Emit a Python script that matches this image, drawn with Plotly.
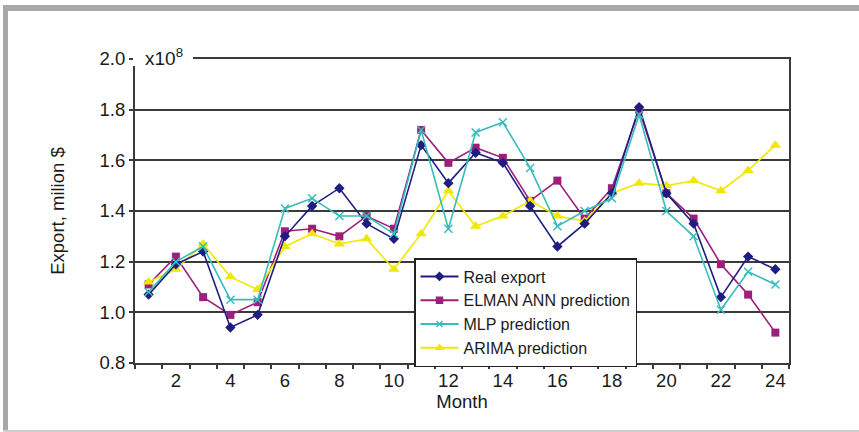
import plotly.graph_objects as go

months = list(range(1, 25))
real_export = [1.07, 1.19, 1.24, 0.94, 0.99, 1.30, 1.42, 1.49, 1.35, 1.29, 1.66, 1.51,
               1.63, 1.59, 1.42, 1.26, 1.35, 1.47, 1.81, 1.47, 1.35, 1.06, 1.22, 1.17]
elman_pred = [1.11, 1.22, 1.06, 0.99, 1.04, 1.32, 1.33, 1.30, 1.38, 1.33, 1.72, 1.59,
              1.65, 1.61, 1.44, 1.52, 1.37, 1.49, 1.80, 1.47, 1.37, 1.19, 1.07, 0.92]
mlp_pred = [1.08, 1.20, 1.26, 1.05, 1.05, 1.41, 1.45, 1.38, 1.38, 1.31, 1.72, 1.33,
            1.71, 1.75, 1.57, 1.34, 1.40, 1.45, 1.78, 1.40, 1.30, 1.01, 1.16, 1.11]
arima_pred = [1.12, 1.17, 1.27, 1.14, 1.09, 1.26, 1.31, 1.27, 1.29, 1.17, 1.31, 1.48,
              1.34, 1.38, 1.44, 1.38, 1.36, 1.47, 1.51, 1.50, 1.52, 1.48, 1.56, 1.66]
x_tick_vals = [2, 4, 6, 8, 10, 12, 14, 16, 18, 20, 22, 24]
y_tick_vals = [0.8, 1.0, 1.2, 1.4, 1.6, 1.8, 2.0]

C_REAL = "#1e1e80"
C_ELMAN = "#9c1f7c"
C_MLP = "#38bcbc"
C_ARIMA = "#f0e800"

series = [
    ("ELMAN ANN prediction", elman_pred, C_ELMAN, "square", 8),
    ("ARIMA prediction", arima_pred, C_ARIMA, "triangle-up", 10),
    ("Real export", real_export, C_REAL, "diamond", 8),
    ("MLP prediction", mlp_pred, C_MLP, "x-thin-open", 8),
]

fig = go.Figure()
for name, vals, col, sym, sz in series:
    if sym == "x-thin-open":
        mk = dict(symbol=sym, size=sz, color=col, line=dict(color=col, width=1.5))
    else:
        mk = dict(symbol=sym, size=sz, color=col, line=dict(width=0))
    fig.add_trace(go.Scatter(x=months, y=vals, mode="lines+markers", name=name,
                             line=dict(color=col, width=1.6), marker=mk,
                             showlegend=False))

# legend-only entries (small symbols, as in the reference legend)
legend_order = [("Real export", C_REAL, "diamond"),
                ("ELMAN ANN prediction", C_ELMAN, "square"),
                ("MLP prediction", C_MLP, "x-thin-open"),
                ("ARIMA prediction", C_ARIMA, "triangle-up")]
for name, col, sym in legend_order:
    fig.add_trace(go.Scatter(x=[None], y=[None], mode="lines+markers", name=name,
                             line=dict(color=col, width=2),
                             marker=dict(symbol=sym, size=6, color=col,
                                         line=dict(color=col, width=1.5))))

L, R, T, B = 135, 70, 59, 69
W, H = 859, 432
pw, ph = W - L - R, H - T - B

def px(x):
    return (x - L) / pw

def py(y):
    return (H - B - y) / ph

shapes = [
    # outer frame
    dict(type="rect", xref="paper", yref="paper", x0=px(3), x1=px(859), y0=py(11), y1=py(5),
         fillcolor="#a8a8a8", line=dict(width=0), layer="above"),
    dict(type="rect", xref="paper", yref="paper", x0=px(3), x1=px(8), y0=py(432), y1=py(5),
         fillcolor="#a8a8a8", line=dict(width=0), layer="above"),
    dict(type="rect", xref="paper", yref="paper", x0=px(3), x1=px(859), y0=py(432), y1=py(430),
         fillcolor="#cfcfcf", line=dict(width=0), layer="above"),
    # white cover behind exponent label
    dict(type="rect", xref="paper", yref="paper", x0=px(133), x1=px(193), y0=py(66), y1=py(46),
         fillcolor="white", line=dict(width=0), layer="above"),
]

fig.update_layout(
    width=W, height=H,
    margin=dict(l=L, r=R, t=T, b=B, autoexpand=False),
    paper_bgcolor="white", plot_bgcolor="white",
    font=dict(family="Liberation Sans, Arial, sans-serif", color="#1a1a1a", size=18),
    shapes=shapes,
    legend=dict(x=px(414), y=py(258), xanchor="left", yanchor="top",
                bgcolor="white", bordercolor="#222222", borderwidth=1.5,
                itemwidth=38,
                font=dict(size=16, color="#1a1a1a"), tracegroupgap=0),
    annotations=[dict(text="x10<sup>8</sup>", xref="paper", yref="paper",
                      x=px(143), y=py(57), xanchor="left", yanchor="middle",
                      showarrow=False, font=dict(size=19, color="#1a1a1a"))],
)

fig.update_xaxes(range=[0.5, 24.5], tickvals=x_tick_vals, ticks="", ticklen=0,
                 showgrid=False, zeroline=False,
                 showline=True, linecolor="#3a3a3a", linewidth=2, mirror=True,
                 minor=dict(ticks="outside", tick0=0.5, dtick=1, ticklen=4,
                            tickcolor="#3a3a3a", tickwidth=1.5, showgrid=False),
                 tickfont=dict(size=18.5),
                 title=dict(text="Month", font=dict(size=18.5), standoff=2))
fig.update_yaxes(range=[0.8, 2.0], tickvals=y_tick_vals, tickformat=".1f",
                 ticks="outside", ticklen=4, tickcolor="#3a3a3a", tickwidth=1.5,
                 showgrid=True, gridcolor="#3a3a3a", gridwidth=1.5, zeroline=False,
                 showline=True, linecolor="#3a3a3a", linewidth=2, mirror=True,
                 tickfont=dict(size=18.5),
                 title=dict(text="Export, milion $", font=dict(size=18.5), standoff=30))

fig.write_html("out.html", config={"displayModeBar": False},
               post_script="document.body.style.margin='0';document.body.style.padding='0';")
